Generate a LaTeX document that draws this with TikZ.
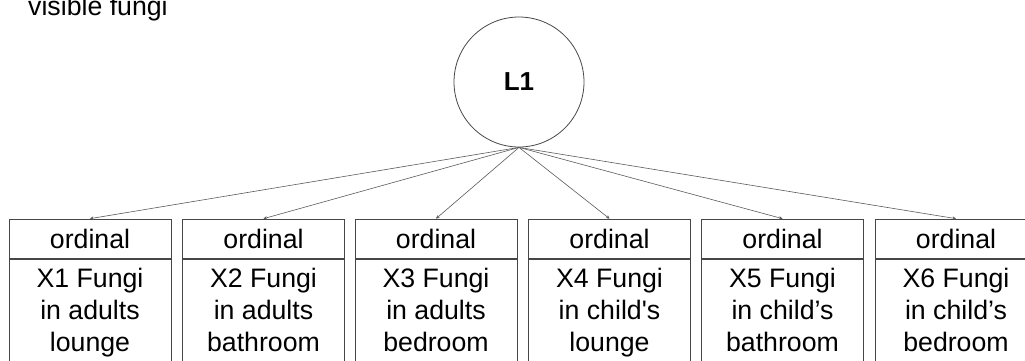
\documentclass[tikz,border=0pt]{standalone}
\usepackage{fontspec}
% no TeX input ligatures, so ' stays a straight apostrophe
\setmainfont{Liberation Sans}[Ligatures=TeXOff]
\usetikzlibrary{arrows.meta}
\definecolor{edge}{RGB}{70,70,70}
\definecolor{wire}{RGB}{90,90,90}
\begin{document}
\begin{tikzpicture}[x=1pt,y=-1pt,
  latent/.style={circle,draw=edge,line width=0.8pt,minimum size=130pt,inner sep=0pt,
    font=\fontsize{26}{31}\selectfont\bfseries},
  header/.style={draw=edge,line width=0.8pt,minimum width=162pt,minimum height=39.5pt,
    inner sep=0pt,font=\fontsize{26.7}{32}\selectfont},
  body/.style={draw=edge,line width=0.8pt,minimum width=162pt,minimum height=130pt,
    inner sep=0pt,anchor=north,font=\fontsize{26.7}{32}\selectfont},
  itemtext/.style={anchor=base,align=center,inner sep=0pt,
    font=\fontsize{26.7}{32}\selectfont},
  load/.style={draw=wire,line width=0.6pt,-{Stealth[length=3.5pt,width=3.5pt]}}]
\useasboundingbox (0,0) rectangle (1025,360);
\clip (0,0) rectangle (1025,360);

% title fragment at the top left
\node[anchor=base west,inner sep=0pt,font=\fontsize{26.7}{32}\selectfont] (title) at (28,15) {visible fungi};

% latent factor
\node[latent] (L1) at (519,82) {L1};

% indicator boxes: header with measurement level, body with item text
% (the base anchor of a multi-line node sits on its last line)
\foreach \i/\cx/\txt in {
  1/90/{X1 Fungi\\in adults\\lounge},
  2/263.5/{X2 Fungi\\in adults\\bathroom},
  3/436/{X3 Fungi\\in adults\\bedroom},
  4/609.5/{X4 Fungi\\in child's\\lounge},
  5/782.5/{X5 Fungi\\in child’s\\bathroom},
  6/956/{X6 Fungi\\in child’s\\bedroom}} {
  \node[header] (h\i) at (\cx,238.8) {ordinal};
  \node[body] (b\i) at (h\i.south) {};
  \node[itemtext] (t\i) at (\cx,351.7) {\txt};
  \draw[load] (L1.south) -- (h\i.north);
}
\end{tikzpicture}
\end{document}
